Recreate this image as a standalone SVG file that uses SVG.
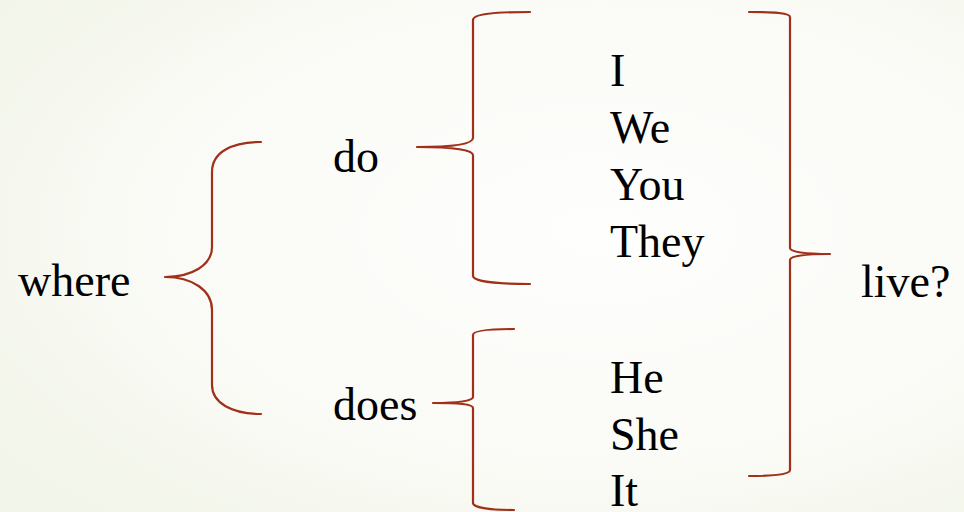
<svg xmlns="http://www.w3.org/2000/svg" width="964" height="512" viewBox="0 0 964 512">
<defs>
<radialGradient id="bg" cx="62%" cy="45%" r="75%">
<stop offset="0" stop-color="#fefefd"/>
<stop offset="0.6" stop-color="#fafbf6"/>
<stop offset="1" stop-color="#f2f5e9"/>
</radialGradient>
<style>
.brace{fill:none;stroke:#a0301a;stroke-width:2.2;stroke-linecap:round;stroke-linejoin:round}
.t{font-family:"Liberation Serif","Times New Roman",serif;font-size:46px;fill:#000}
</style>
</defs>
<rect width="964" height="512" fill="url(#bg)"/>
<g id="connectors">
<path class="brace" d="M261,142 C232,142 212,152 212,172 L212,247 C212,265 192,277 165,277 C192,277 212,290 212,310 L212,385 C212,403 232,414 261,414"/>
<path class="brace" d="M530,12 C495,12 473,14 473,20 L473,138 C473,144 455,147 417,147 C455,147 473,150 473,155 L473,276 C473,281 495,284 530,284"/>
<path class="brace" d="M514,329 C488,329 473,331 473,335 L473,397 C473,401 458,403 433,403 C458,403 473,404 473,408 L473,503 C473,507 488,510 514,510"/>
<path class="brace" d="M749,12 C775,12 790,13 790,17 L790,248 C790,252 805,254 830,254 C805,254 790,256 790,260 L790,470 C790,474 775,476 749,476"/>
</g>
<g id="where"><text class="t" x="18" y="296">where</text></g>
<g id="do"><text class="t" x="333" y="172">do</text></g>
<g id="does"><text class="t" x="333" y="420">does</text></g>
<g id="plural">
<text class="t" x="610" y="86">I</text>
<text class="t" x="610" y="143">We</text>
<text class="t" x="610" y="200">You</text>
<text class="t" x="610" y="257">They</text>
</g>
<g id="singular">
<text class="t" x="610" y="393">He</text>
<text class="t" x="610" y="450">She</text>
<text class="t" x="610" y="506">It</text>
</g>
<g id="live"><text class="t" x="861" y="297">live?</text></g>
</svg>
